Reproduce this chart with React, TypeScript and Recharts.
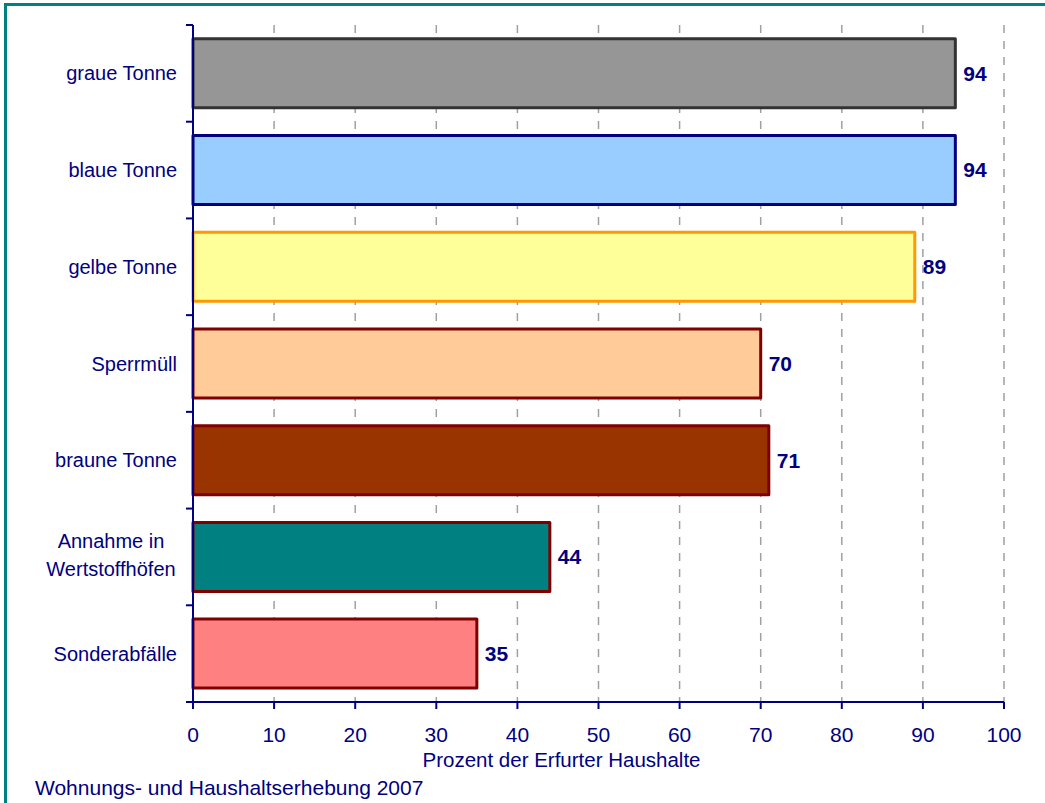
import React from 'react';
import { BarChart, Bar, XAxis, YAxis, CartesianGrid, Cell, LabelList } from 'recharts';

const categories = [
  'graue Tonne',
  'blaue Tonne',
  'gelbe Tonne',
  'Sperrmüll',
  'braune Tonne',
  'Annahme in\nWertstoffhöfen',
  'Sonderabfälle',
];
const shares = [94, 94, 89, 70, 71, 44, 35];
const fills = ['#969696', '#99CCFF', '#FFFF99', '#FFCC99', '#993300', '#008080', '#FF8080'];
const strokes = ['#333333', '#000080', '#FF9900', '#800000', '#800000', '#800000', '#800000'];
const xTicks = [0, 10, 20, 30, 40, 50, 60, 70, 80, 90, 100];

const NAVY = '#000080';
const FONT = '"Liberation Sans", Arial, sans-serif';
const W = 1045;
const H = 803;
const TOP = 25;
const AXIS_H = 101;
const BAND = (H - TOP - AXIS_H) / categories.length;

const data = categories.map((name, i) => ({ name, value: shares[i] }));

// category labels sit in the band, tick marks at band boundaries (Excel style)
function CategoryTick(props: any) {
  const { x, y, payload, index } = props;
  const lines = String(payload.value).split('\n');
  const tickX1 = x + 9;
  const tickX2 = x + 16;
  return (
    <g>
      <line x1={tickX1} x2={tickX2} y1={y - BAND / 2} y2={y - BAND / 2} stroke={NAVY} strokeWidth={2} />
      {index === categories.length - 1 && (
        <line x1={tickX1} x2={tickX2} y1={y + BAND / 2} y2={y + BAND / 2} stroke={NAVY} strokeWidth={2} />
      )}
      {lines.length === 1 ? (
        <text x={x} y={y + 7} textAnchor="end" fill={NAVY} fontSize={20} fontFamily={FONT}>
          {lines[0]}
        </text>
      ) : (
        <text x={x - 66} y={y} textAnchor="middle" fill={NAVY} fontSize={20} fontFamily={FONT}>
          <tspan x={x - 66} y={y - 8.6}>{lines[0]}</tspan>
          <tspan x={x - 66} y={y + 19.1}>{lines[1]}</tspan>
        </text>
      )}
    </g>
  );
}

export default function App() {
  return (
    <div style={{ position: 'absolute', left: 0, top: 0, width: W, height: H, overflow: 'hidden', background: '#fff' }}>
      {/* frame of the original sheet, only top and left edges visible */}
      <div
        style={{
          position: 'absolute',
          left: 4,
          top: 3,
          width: W + 50,
          height: H + 50,
          borderTop: '3px solid #008080',
          borderLeft: '3px solid #008080',
        }}
      />
      <div style={{ position: 'absolute', left: 0, top: 0 }}>
        <BarChart
          width={W}
          height={H}
          data={data}
          layout="vertical"
          margin={{ top: TOP, right: 41, left: 0, bottom: 0 }}
          barCategoryGap="14.3%"
        >
          <CartesianGrid horizontal={false} stroke="#a0a0a0" strokeWidth={1.5} strokeDasharray="8 8" />
          <XAxis
            type="number"
            domain={[0, 100]}
            ticks={xTicks}
            height={AXIS_H}
            axisLine={{ stroke: NAVY, strokeWidth: 2 }}
            tickLine={{ stroke: NAVY, strokeWidth: 2 }}
            tickSize={7}
            tickMargin={18}
            tick={{ fill: NAVY, fontSize: 21, fontFamily: FONT }}
          />
          <YAxis
            type="category"
            dataKey="name"
            width={193}
            axisLine={{ stroke: NAVY, strokeWidth: 2 }}
            tickLine={false}
            tickSize={7}
            tickMargin={9}
            interval={0}
            tick={<CategoryTick />}
          />
          <Bar dataKey="value" strokeWidth={3} isAnimationActive={false}>
            {data.map((d, i) => (
              <Cell key={d.name} fill={fills[i]} stroke={strokes[i]} strokeLinejoin="round" />
            ))}
            <LabelList
              dataKey="value"
              position="right"
              offset={8}
              fill={NAVY}
              fontSize={21}
              fontWeight="bold"
              fontFamily={FONT}
            />
          </Bar>
        </BarChart>
      </div>
      <svg width={W} height={H} style={{ position: 'absolute', left: 0, top: 0, pointerEvents: 'none' }}>
        <text x={561.5} y={767} textAnchor="middle" fill={NAVY} fontSize={20.5} fontFamily={FONT}>
          Prozent der Erfurter Haushalte
        </text>
        <text x={35} y={795} fill={NAVY} fontSize={21} fontFamily={FONT}>
          Wohnungs- und Haushaltserhebung 2007
        </text>
      </svg>
    </div>
  );
}
